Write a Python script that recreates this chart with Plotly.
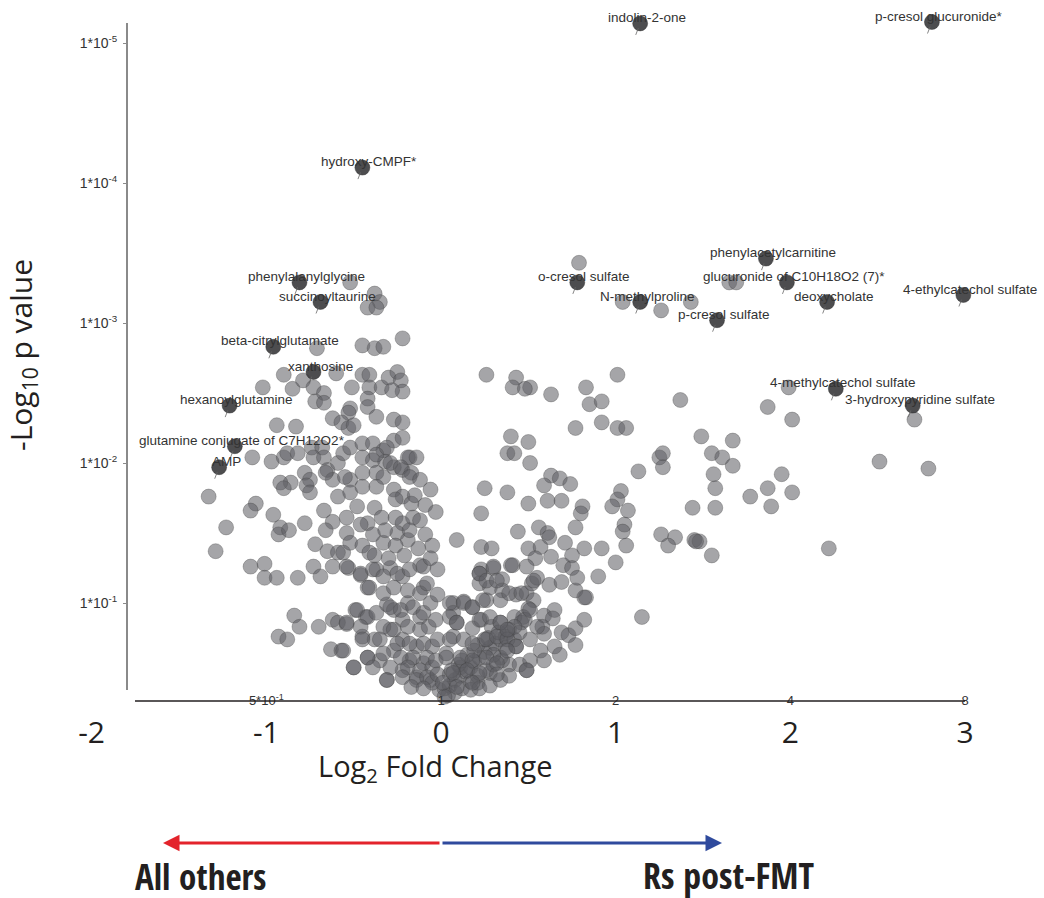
import plotly.graph_objects as go

# ---------------- data ----------------
# gray metabolites, right side (log2 fold change, -log10 p)
right_fc = [0.79,1.04,1.26,1.43,1.65,1.69,1.99,1.87,2.01,1.01,0.83,0.63,0.85,0.92,1.37,0.51,2.71,
 0.26,0.43,0.41,0.48,0.77,0.92,1.01,1.06,0.40,0.50,0.38,0.42,0.51,1.49,1.55,1.25,1.27,1.27,1.13,1.56,1.57,1.57,1.44,0.63,0.68,0.59,0.74,0.25,0.38,0.50,0.61,0.69,0.81,0.80,1.03,1.01,0.98,1.07,0.23,0.56,0.61,0.62,0.77,0.44,1.05,1.04,1.26,1.34,1.45,0.09,
 1.67,1.61,1.67,1.95,1.87,1.77,2.01,1.89,2.51,2.79,2.22,1.55,1.48,
 0.23,0.29,0.71,0.82,0.92,1.06,1.30,1.46,1.00,0.90,1.15,0.50,0.57,0.54,0.63,0.75,0.70,0.75,0.40,0.30,0.23,0.22,0.22,0.28,0.35,0.35,0.26,0.34,0.43,0.49,0.52,0.55,0.62,0.69,0.77,0.78,0.83,0.82,0.53,0.50,0.47,0.42,0.46,0.59,0.65,0.64,0.58,0.59,0.69,0.73,0.77,0.65,0.07,0.13,0.18,0.07,0.09,0.18,0.23,0.29,0.34,0.38,0.43,0.49,0.39,0.34,0.28,0.21,0.07,0.03,0.11,
 0.02,0.05,0.08,0.11,0.14,0.17,0.19,0.22,0.25,0.28,0.31,0.34,0.37,0.39,0.05,0.10,0.15,0.21,0.27,0.33,0.08,0.12,0.17,0.21,0.26,0.30,0.35,0.04,0.02,0.06,0.12,0.19,0.25,0.30,0.37,0.42,0.45,0.51,0.57,0.17,0.22,0.28,0.34,0.39,0.45,0.51,0.59,0.68,0.77,0.82,
 0.05,0.13,0.18,0.05,0.09,0.22,0.28,0.34,0.05,0.13,0.18,0.26,0.32,0.38,0.43,0.03,0.11,0.18,0.26,0.32,0.07,0.15,0.22,0.32,0.01,0.09,0.18,0.49,0.38,0.22,0.30,0.41,0.49,0.26,0.32,0.39,0.46,0.53,0.24,0.48,0.42,0.38,0.55,0.51]
right_p = [3.43,3.15,3.09,3.15,3.29,3.29,2.54,2.40,2.31,2.63,2.54,2.49,2.42,2.44,2.45,2.54,2.31,
 2.63,2.61,2.54,2.53,2.25,2.29,2.25,2.25,2.19,2.15,2.07,2.07,2.00,2.19,2.07,2.04,2.07,1.97,1.94,1.92,1.82,1.68,1.68,1.91,1.89,1.84,1.85,1.82,1.79,1.71,1.73,1.73,1.69,1.64,1.80,1.74,1.69,1.66,1.64,1.54,1.50,1.47,1.54,1.51,1.56,1.51,1.49,1.47,1.45,1.45,
 2.16,2.04,1.98,1.92,1.82,1.76,1.79,1.69,2.01,1.96,1.39,1.34,1.44,
 1.40,1.39,1.43,1.39,1.39,1.41,1.41,1.44,1.29,1.19,0.90,1.39,1.40,1.32,1.33,1.34,1.27,1.25,1.27,1.25,1.24,1.21,1.14,1.11,1.17,1.09,1.02,1.02,1.06,1.07,1.14,1.18,1.13,1.15,1.09,1.18,1.04,1.04,1.02,0.96,0.90,0.90,0.86,0.91,0.95,0.89,0.83,0.78,0.79,0.77,0.82,0.69,1.00,1.01,0.97,0.93,0.86,0.82,0.88,0.83,0.86,0.79,0.69,0.52,0.56,0.61,0.50,0.43,0.76,0.64,0.54,
 0.39,0.41,0.45,0.48,0.51,0.54,0.58,0.61,0.65,0.68,0.71,0.74,0.76,0.81,0.49,0.56,0.63,0.70,0.75,0.79,0.36,0.39,0.44,0.48,0.52,0.56,0.59,0.34,0.33,0.52,0.59,0.66,0.74,0.63,0.68,0.74,0.79,0.74,0.66,0.38,0.39,0.41,0.45,0.48,0.56,0.59,0.59,0.63,0.70,0.88,
 1.00,1.00,0.97,0.90,0.86,0.88,0.90,0.86,0.74,0.74,0.71,0.74,0.76,0.74,0.69,0.61,0.61,0.59,0.61,0.57,0.50,0.52,0.50,0.49,0.43,0.40,0.43,0.52,0.66,1.21,1.26,1.27,1.26,1.16,1.16,1.07,1.07,1.16,1.02,0.88,0.83,0.81,0.83,0.95]

# gray metabolites, left side
left_fc = [-0.52,-0.38,-0.35,-0.42,-0.37,-0.22,-0.45,-0.38,-0.33,-0.71,-0.90,-0.85,-0.79,-1.02,-0.60,-0.51,-0.45,-0.41,-0.41,-0.34,-0.30,-0.25,-0.23,-0.22,-0.28,-0.73,-0.67,-0.72,-0.67,-0.52,-0.53,-0.42,-0.42,-0.37,-0.27,-0.22,-0.62,-0.57,-0.53,-0.50,-0.94,-0.83,-1.08,-0.97,-0.90,-0.78,-0.88,-0.82,-0.74,-0.68,-0.73,-0.67,-0.65,-0.59,-0.56,-0.52,-0.45,-0.39,-0.33,-0.27,-0.22,-0.18,-0.45,-0.39,-0.32,-0.27,-0.22,-0.17,-0.37,-0.45,-0.62,-0.52,-0.86,-0.75,
 -0.66,-0.55,-0.37,-0.31,-0.19,-0.14,-0.29,-0.23,-0.18,-0.33,-0.77,-0.92,-0.90,-1.33,-1.06,-1.09,-0.96,-0.78,-0.67,-0.75,-0.59,-0.52,-0.45,-0.37,-0.27,-0.22,-0.17,-0.38,-0.48,-0.54,-0.42,-0.34,-0.26,-0.22,-0.16,-0.62,-0.92,-1.23,
 -1.29,-1.09,-1.01,-1.01,-0.94,-0.82,-0.93,-0.87,-0.66,-0.72,-0.65,-0.59,-0.56,-0.73,-0.69,-0.62,-0.53,-0.54,-0.52,-0.45,-0.41,-0.33,-0.25,-0.19,-0.46,-0.42,-0.37,-0.29,-0.22,-0.12,-0.10,-0.84,-0.81,-0.70,-0.62,-0.59,-0.54,-0.49,-0.43,-0.45,-0.38,-0.93,-0.88,-0.63,-0.57,-0.42,-0.50,-0.35,-0.31,-0.31,-0.27,-0.19,-0.22,-0.12,-0.29,-0.22,-0.14,-0.27,-0.18,-0.10,-0.22,-0.14,-0.06,-0.01,
 -0.54,-0.46,-0.39,-0.33,-0.25,-0.18,-0.10,-0.41,-0.33,-0.27,-0.19,-0.12,-0.08,-0.48,-0.42,-0.37,-0.29,-0.23,-0.16,-0.10,-0.06,-0.54,-0.46,-0.33,-0.27,-0.19,-0.12,-0.07,-0.45,-0.35,-0.25,-0.18,-0.10,-0.05,-0.56,-0.42,-0.33,-0.23,-0.16,-0.08,-0.50,-0.39,-0.29,-0.19,-0.12,-0.05,-0.31,-0.22,-0.14,-0.08,-0.05,-0.17,-0.10,
 -0.12,-0.06,-0.15,-0.09,-0.03,-0.12,-0.18,-0.09,-0.05,-0.13,-0.26,-0.21,-0.06,-0.30,-0.38,-0.26,-0.32,-0.39,-0.46,-0.02,-0.02,-0.03,-0.02,-0.03,-0.02]
left_p = [3.29,3.21,3.15,3.11,3.11,2.89,2.84,2.82,2.83,2.82,2.63,2.53,2.59,2.54,2.64,2.54,2.63,2.63,2.54,2.54,2.61,2.65,2.59,2.51,2.52,2.54,2.50,2.44,2.43,2.39,2.36,2.46,2.40,2.33,2.31,2.29,2.32,2.29,2.25,2.27,2.27,2.26,2.04,2.01,2.04,1.93,2.07,2.07,2.11,2.11,2.04,2.04,1.95,2.00,2.07,2.11,2.14,2.14,2.09,2.16,2.18,2.04,2.04,2.02,2.01,1.97,1.95,1.93,1.93,1.93,1.88,1.88,1.86,1.88,
 1.93,1.90,2.06,2.11,2.04,2.04,2.00,1.97,1.90,1.90,1.84,1.86,1.82,1.76,1.71,1.66,1.63,1.57,1.66,1.79,1.76,1.79,1.83,1.83,1.81,1.76,1.71,1.68,1.69,1.61,1.57,1.61,1.61,1.57,1.61,1.58,1.54,1.54,
 1.37,1.26,1.28,1.18,1.18,1.18,1.49,1.52,1.52,1.42,1.37,1.36,1.36,1.26,1.19,1.26,1.25,1.50,1.43,1.41,1.36,1.43,1.50,1.45,1.20,1.11,1.24,1.25,1.19,1.27,1.11,0.91,0.83,0.83,0.88,0.86,0.85,0.95,0.90,0.76,0.74,0.76,0.74,0.67,0.66,0.61,0.54,0.59,0.45,0.99,0.95,1.00,0.88,0.90,0.81,0.74,0.69,0.66,0.59,0.57,0.52,0.47,0.45,0.38,
 1.26,1.21,1.24,1.19,1.21,1.24,1.26,1.11,1.07,1.11,1.09,1.07,1.14,0.95,0.90,0.93,0.97,0.95,0.97,0.93,1.00,0.86,0.83,0.83,0.81,0.83,0.81,0.83,0.74,0.74,0.71,0.71,0.71,0.69,0.66,0.61,0.64,0.61,0.61,0.61,0.54,0.54,0.54,0.54,0.52,0.54,0.45,0.47,0.45,0.47,0.43,0.40,0.39,
 1.88,1.81,1.77,1.70,1.65,1.59,1.52,1.49,1.41,1.39,1.41,1.34,1.32,1.32,1.34,1.74,1.52,1.49,1.56,1.24,1.06,0.88,0.74,0.59,0.49]

# labelled metabolites
lab_names = ["indolin-2-one", "p-cresol glucuronide*", "hydroxy-CMPF*", "phenylacetylcarnitine",
             "glucuronide of C10H18O2 (7)*", "deoxycholate", "4-ethylcatechol sulfate", "o-cresol sulfate",
             "N-methylproline", "p-cresol sulfate", "4-methylcatechol sulfate", "3-hydroxypyridine sulfate",
             "phenylalanylglycine", "succinoyltaurine", "beta-citrylglutamate", "xanthosine",
             "hexanoylglutamine", "glutamine conjugate of C7H12O2*", "AMP"]
lab_fc = [1.14, 2.81, -0.45, 1.86, 1.98, 2.21, 2.99, 0.78, 1.14, 1.58, 2.26, 2.70,
          -0.81, -0.69, -0.96, -0.73, -1.21, -1.18, -1.27]
lab_p = [5.14, 5.15, 4.11, 3.46, 3.29, 3.15, 3.20, 3.29, 3.15, 3.02, 2.53, 2.41,
         3.29, 3.15, 2.83, 2.65, 2.41, 2.12, 1.97]

# axis ticks
y_tickvals = [1, 2, 3, 4, 5]
y_ticktext = ["1*10<sup>-1</sup>", "1*10<sup>-2</sup>", "1*10<sup>-3</sup>", "1*10<sup>-4</sup>", "1*10<sup>-5</sup>"]
fc_tickvals = [-1, 0, 1, 2, 3]
fc_ticktext = ["5*10<sup>-1</sup>", "1", "2", "4", "8"]
log2_tickvals = [-2, -1, 0, 1, 2, 3]
log2_ticktext = ["-2", "-1", "0", "1", "2", "3"]

# ---------------- layout helpers ----------------
W, H = 1044, 898
def pxx(x):
    return x / W
def pxy(y):
    return 1 - y / H

X0PIX, XSCALE = 441.0, 174.7   # pixel of log2FC=0, pixels per unit
def xr(p):
    return (p - X0PIX) / XSCALE

TXT = "#231f20"
ARIAL = "Liberation Sans, Arial, sans-serif"
MYRIAD = "Open Sans, Noto Sans, sans-serif"
NARROW = "Open Sans Condensed, DejaVu Sans Condensed, Liberation Sans Narrow, sans-serif"

fig = go.Figure()
fig.add_trace(go.Scatter(
    x=left_fc + right_fc, y=left_p + right_p, mode="markers",
    marker=dict(size=15, color="rgba(95,95,100,0.56)",
                line=dict(color="rgba(60,60,60,0.45)", width=0.7)),
    cliponaxis=False, hoverinfo="skip", showlegend=False))
fig.add_trace(go.Scatter(
    x=lab_fc, y=lab_p, mode="markers",
    marker=dict(size=15, color="rgba(62,62,64,0.92)",
                line=dict(color="rgba(40,40,40,0.6)", width=0.7)),
    cliponaxis=False, hoverinfo="skip", showlegend=False))
# carrier trace for the lower Log2 axis
fig.add_trace(go.Scatter(x=log2_tickvals, y=[None] * len(log2_tickvals), xaxis="x2", yaxis="y",
                         mode="markers", hoverinfo="skip", showlegend=False))

annotations = []
for name, fx, fy in zip(lab_names, lab_fc, lab_p):
    annotations.append(dict(x=fx, y=fy, xref="x", yref="y", text="", showarrow=True,
                            ax=-5, ay=13, standoff=5, arrowhead=0, arrowwidth=0.8,
                            arrowcolor="#666666"))
    annotations.append(dict(x=fx, y=fy, xref="x", yref="y", text=name, showarrow=False,
                            xanchor="center", yanchor="middle",
                            xshift=7, yshift=6, font=dict(family=ARIAL, size=13.5, color="#333333")))

annotations += [
    dict(x=pxx(22), y=pxy(355), xref="paper", yref="paper", text="-Log<sub>10</sub> p value",
         xanchor="center", yanchor="middle",
         textangle=-90, showarrow=False, font=dict(family=MYRIAD, size=30, color=TXT)),
    dict(x=pxx(435), y=pxy(767), xref="paper", yref="paper", text="Log<sub>2</sub> Fold Change",
         xanchor="center", yanchor="middle",
         showarrow=False, font=dict(family=MYRIAD, size=29, color=TXT)),
    dict(x=pxx(163), y=pxy(843), ax=441 - 163, ay=0, xref="paper", yref="paper",
         text="", showarrow=True, arrowhead=2, arrowsize=1.1,
         arrowwidth=3, arrowcolor="#e3232b"),
    dict(x=pxx(722), y=pxy(843), ax=441 - 722, ay=0, xref="paper", yref="paper",
         text="", showarrow=True, arrowhead=2, arrowsize=1.1,
         arrowwidth=3, arrowcolor="#2f4a9d"),
    dict(x=pxx(200), y=pxy(876), xref="paper", yref="paper", text="<b>All others</b>",
         xanchor="center", yanchor="middle",
         showarrow=False, font=dict(family=NARROW, size=35, color=TXT)),
    dict(x=pxx(728), y=pxy(875), xref="paper", yref="paper", text="<b>Rs post-FMT</b>",
         xanchor="center", yanchor="middle",
         showarrow=False, font=dict(family=NARROW, size=36, color=TXT)),
]

shapes = [
    dict(type="line", xref="paper", yref="paper", x0=pxx(127), x1=pxx(127), y0=pxy(23), y1=pxy(690),
         line=dict(color="#8a8a8a", width=2)),
    dict(type="line", xref="paper", yref="paper", x0=pxx(135), x1=pxx(965), y0=pxy(701), y1=pxy(701),
         line=dict(color=TXT, width=1.5)),
]

fig.update_layout(
    width=W, height=H, autosize=False, margin=dict(l=0, r=0, t=0, b=0),
    paper_bgcolor="white", plot_bgcolor="rgba(0,0,0,0)", showlegend=False,
    xaxis=dict(domain=[pxx(127), pxx(1000)], range=[xr(127), xr(1000)], anchor="y",
               tickvals=fc_tickvals, ticktext=fc_ticktext, showgrid=False, zeroline=False,
               showline=False, ticks="", ticklabelstandoff=-10,
               tickfont=dict(family=ARIAL, size=13, color="#333333")),
    yaxis=dict(domain=[pxy(701), pxy(15)], range=[(743 - 701) / 140, (743 - 15) / 140],
               tickvals=y_tickvals, ticktext=y_ticktext, showgrid=False, zeroline=False,
               showline=False, ticks="outside", ticklen=3, tickcolor="#8a8a8a", tickwidth=1,
               ticklabelstandoff=3, tickfont=dict(family=ARIAL, size=14, color="#333333")),
    xaxis2=dict(domain=[pxx(60), pxx(1000)], range=[xr(60), xr(1000)], anchor="free",
                position=pxy(712), tickvals=log2_tickvals, ticktext=log2_ticktext,
                showgrid=False, zeroline=False,
                showline=False, ticks="", tickfont=dict(family=MYRIAD, size=30, color=TXT)),
    annotations=annotations, shapes=shapes,
)

fig.write_html("out.html")
